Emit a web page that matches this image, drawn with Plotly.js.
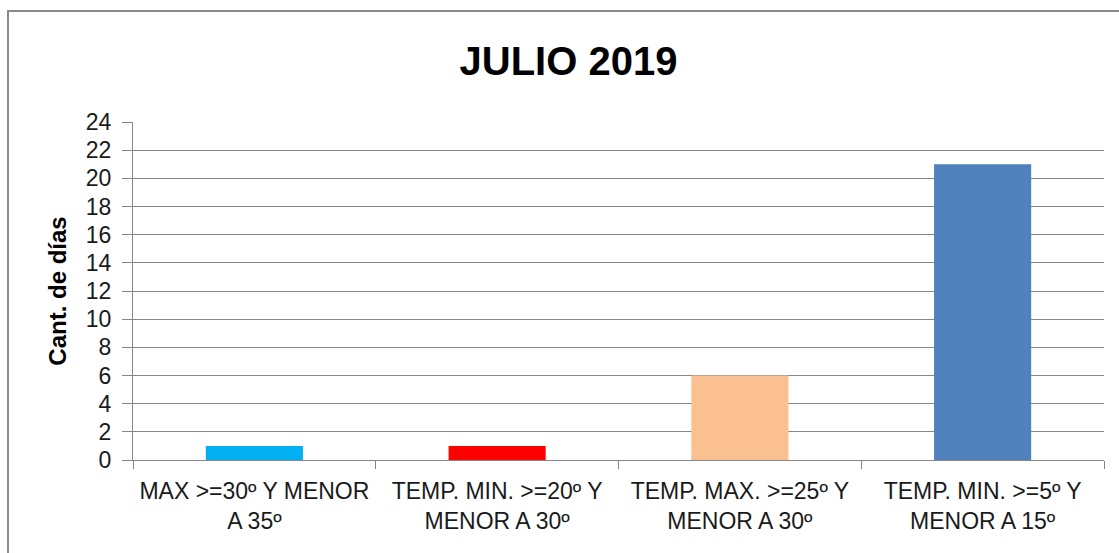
<!DOCTYPE html>
<html>
<head>
<meta charset="utf-8">
<script src="https://cdn.plot.ly/plotly-3.0.1.min.js"></script>
<style>
html,body{margin:0;padding:0;background:#fff;overflow:hidden;}
#chart{width:1119px;height:553px;position:absolute;left:0;top:0;}
#frame{position:absolute;left:7px;top:10px;width:1200px;height:700px;border:2px solid #8a8a8a;box-sizing:border-box;pointer-events:none;}
</style>
</head>
<body>
<div id="chart"></div>
<div id="frame"></div>
<script>
const categories = ["MAX >=30º Y MENOR<br>A 35º", "TEMP. MIN. >=20º Y<br>MENOR A 30º", "TEMP. MAX. >=25º Y<br>MENOR A 30º", "TEMP. MIN. >=5º Y<br>MENOR A 15º"];
const values = [1, 1, 6, 21];
const barColors = ["#00B0F0", "#FF0000", "#FAC090", "#4F81BD"];
const yTicks = [0,2,4,6,8,10,12,14,16,18,20,22,24];

const font = "Liberation Sans, Arial, sans-serif";
Plotly.newPlot("chart", [{
  type: "bar",
  x: categories,
  y: values,
  marker: {color: barColors},
  hoverinfo: "none"
}], {
  width: 1119, height: 553,
  margin: {l: 133, r: 15, t: 122, b: 93},
  paper_bgcolor: "#fff", plot_bgcolor: "#fff",
  bargap: 0.6,
  showlegend: false,
  title: {text: "<b>JULIO 2019</b>", x: 0.508, xanchor: "center", y: 0.89, yanchor: "middle",
          font: {family: font, size: 40, color: "#000"}},
  xaxis: {
    tickson: "boundaries", ticks: "outside", ticklen: 8, tickcolor: "#868686",
    ticklabelstandoff: 10,
    showline: true, linecolor: "#868686", linewidth: 1,
    tickfont: {family: font, size: 23, color: "#1a1a1a"},
    showgrid: false, zeroline: false, fixedrange: true
  },
  yaxis: {
    range: [0, 24], tickvals: yTicks, ticktext: yTicks.map(String),
    ticks: "outside", ticklen: 10, tickcolor: "#868686",
    ticklabelstandoff: 6,
    showline: true, linecolor: "#868686", linewidth: 1,
    showgrid: true, gridcolor: "#868686", gridwidth: 1, zeroline: false,
    tickfont: {family: font, size: 23, color: "#1a1a1a"},
    title: {text: "<b>Cant. de días</b>", font: {family: font, size: 24, color: "#000"}, standoff: 12},
    fixedrange: true
  }
}, {staticPlot: true});
</script>
</body>
</html>
